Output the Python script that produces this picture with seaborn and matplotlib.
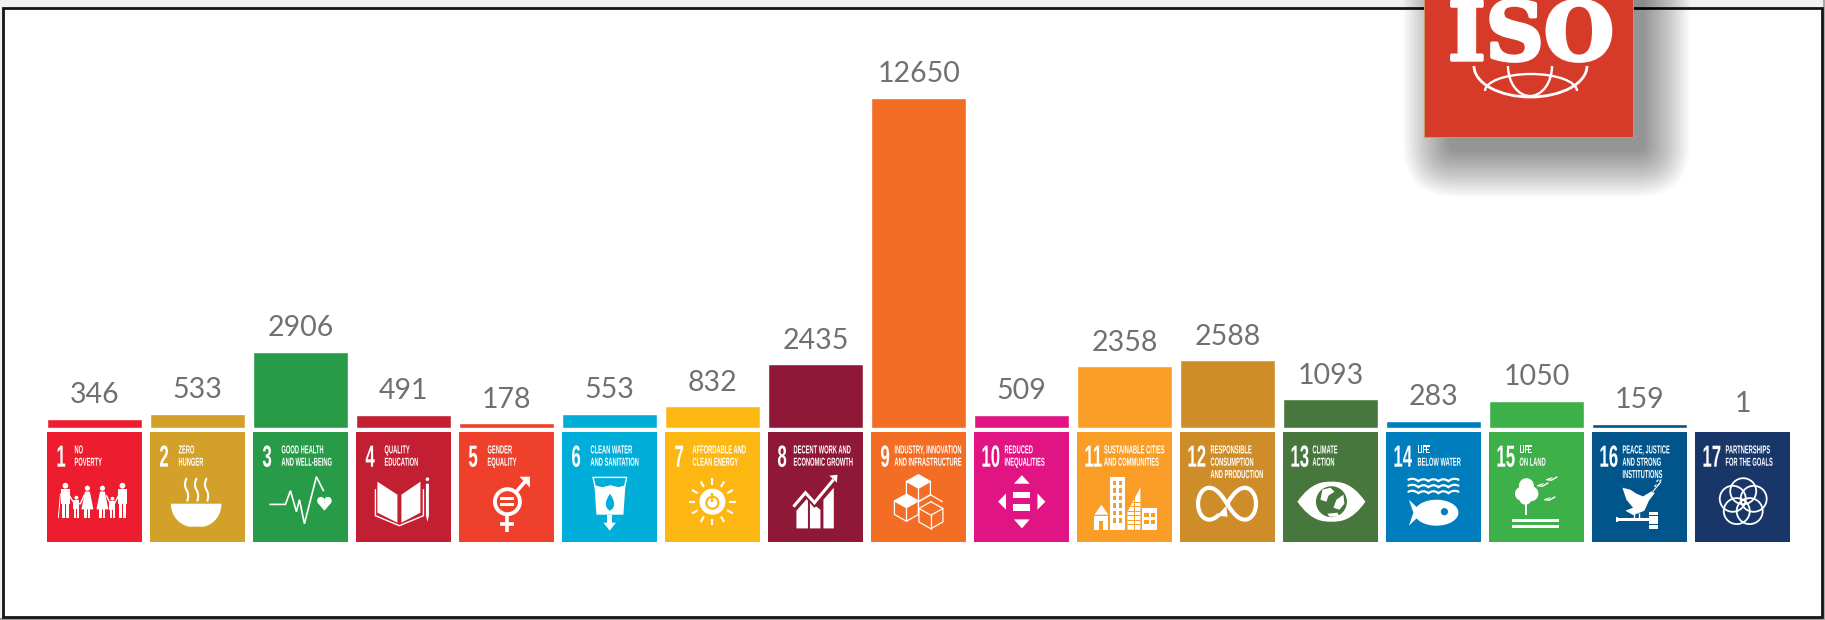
import numpy as np
import matplotlib
matplotlib.use("Agg")
import matplotlib.pyplot as plt
import matplotlib.patheffects as pe
import seaborn as sns
from matplotlib.patches import Rectangle, Polygon, Circle, Ellipse, PathPatch, Arc, FancyBboxPatch
from matplotlib.path import Path
from matplotlib.text import Text
from matplotlib.transforms import Affine2D, Bbox

# Dados
goals = [str(i) for i in range(1, 18)]
values = [346, 533, 2906, 491, 178, 553, 832, 2435, 12650, 509, 2358, 2588, 1093, 283, 1050, 159, 1]
colors = ["#ED1C2E", "#D3A029", "#279B48", "#C31F33", "#EF402B", "#00AED9", "#FDB713", "#8F1838", "#F36D25",
          "#E11484", "#F99D26", "#CF8D2A", "#48773E", "#007DBC", "#3EB049", "#02558B", "#183668"]
titles = [["NO", "POVERTY"], ["ZERO", "HUNGER"], ["GOOD HEALTH", "AND WELL-BEING"], ["QUALITY", "EDUCATION"],
          ["GENDER", "EQUALITY"], ["CLEAN WATER", "AND SANITATION"], ["AFFORDABLE AND", "CLEAN ENERGY"],
          ["DECENT WORK AND", "ECONOMIC GROWTH"], ["INDUSTRY, INNOVATION", "AND INFRASTRUCTURE"],
          ["REDUCED", "INEQUALITIES"], ["SUSTAINABLE CITIES", "AND COMMUNITIES"],
          ["RESPONSIBLE", "CONSUMPTION", "AND PRODUCTION"], ["CLIMATE", "ACTION"], ["LIFE", "BELOW WATER"],
          ["LIFE", "ON LAND"], ["PEACE, JUSTICE", "AND STRONG", "INSTITUTIONS"], ["PARTNERSHIPS", "FOR THE GOALS"]]
title_x = [27, 28, 28, 28, 28, 28, 27, 25, 23, 30, 26.5, 30, 29, 31, 30, 30, 30]

W, H = 1825, 620
sns.set_theme(style="white")
fig = plt.figure(figsize=(W / 100, H / 100), dpi=100, facecolor="#f0f0f0")


class Squeeze(pe.AbstractPathEffect):
    # aperta o texto na horizontal (as fontes condensadas nao estao instaladas)
    def __init__(self, sx):
        super().__init__()
        self.sx = sx

    def draw_path(self, renderer, gc, tpath, affine, rgbFace=None):
        renderer.draw_path(gc, tpath, Affine2D().scale(self.sx, 1) + affine, rgbFace)


class NarrowText(Text):
    # texto real, com a caixa igual ao que e desenhado depois do aperto
    def __init__(self, *args, sx=0.5, **kwargs):
        super().__init__(*args, path_effects=[Squeeze(sx)], **kwargs)
        self.sx = sx

    def get_window_extent(self, renderer=None, dpi=None):
        bb = super().get_window_extent(renderer, dpi)
        return Bbox.from_extents(bb.x0, bb.y0, bb.x0 + bb.width * self.sx, bb.y1)


def pixel_axes(z):
    a = fig.add_axes([0, 0, 1, 1], zorder=z)
    a.set_xlim(0, W)
    a.set_ylim(H, 0)
    a.axis("off")
    a.patch.set_alpha(0)
    return a


# Moldura de fundo
bg = pixel_axes(0)
bg.add_patch(Rectangle((0, 618), W, 2, color="#9a9a9a", lw=0))
bg.add_patch(Rectangle((1823.5, 0), 2, H, color="#a8a8a8", lw=0))
bg.add_patch(Rectangle((3, 8), 1819.5, 608.5, fc="white", ec="#151515", lw=2))

# Barras
ax = fig.add_axes([43.2 / W, (H - 428) / H, 1751 / W, 364 / H], zorder=1)
sns.barplot(x=goals, y=values, hue=goals, palette=colors, legend=False, width=0.918, saturation=1, ax=ax)
ax.set_xlim(-0.5, 16.5)
ax.set_ylim(0, 13950)
ax.axis("off")
ax.patch.set_alpha(0)
for c in ax.containers:
    ax.bar_label(c, fmt="%d", padding=7.7, fontsize=20.5, color="#707070", family="Lato", clip_on=False)

deco = pixel_axes(2)

# Blocos dos objetivos
C = "white"


def poly(tr, pts, color=C, z=3):
    deco.add_patch(Polygon(pts, closed=True, fc=color, ec="none", transform=tr, zorder=z))


def line(tr, pts, lw=1.5, color=C, z=3, cap="round"):
    pts = np.array(pts)
    deco.plot(pts[:, 0], pts[:, 1], color=color, lw=lw, transform=tr, zorder=z, solid_capstyle=cap,
              solid_joinstyle="miter")


def circ(tr, xy, r, color=C, z=3, lw=0, fill=True):
    deco.add_patch(Circle(xy, r, fc=color if fill else "none", ec=color if not fill else "none", lw=lw,
                          transform=tr, zorder=z))


def box(tr, x0, y0, x1, y1, color=C, z=3):
    poly(tr, [(x0, y0), (x1, y0), (x1, y1), (x0, y1)], color, z)


def curve(tr, verts, codes, fill=True, lw=1.5, color=C, z=3):
    deco.add_patch(PathPatch(Path(verts, codes), fc=color if fill else "none", ec=color if not fill else "none",
                             lw=lw, transform=tr, zorder=z, capstyle="round"))


M, L4, C3, C4 = Path.MOVETO, Path.LINETO, Path.CURVE3, Path.CURVE4


def person(tr, cx, head, foot, w, dress=False):
    r = w * 0.32
    circ(tr, (cx, head), r)
    top = head + r + 0.8
    if dress:
        poly(tr, [(cx - w * 0.3, top), (cx + w * 0.3, top), (cx + w * 0.75, top + (foot - top) * 0.68),
                  (cx - w * 0.75, top + (foot - top) * 0.68)])
        box(tr, cx - w * 0.38, top + (foot - top) * 0.6, cx - w * 0.08, foot)
        box(tr, cx + w * 0.08, top + (foot - top) * 0.6, cx + w * 0.38, foot)
    else:
        box(tr, cx - w * 0.5, top, cx + w * 0.5, top + (foot - top) * 0.5)
        box(tr, cx - w * 0.42, top, cx - w * 0.04, foot)
        box(tr, cx + w * 0.04, top, cx + w * 0.42, foot)


def icon1(tr, bgc):
    person(tr, 18, 54, 86, 9)
    person(tr, 29, 66, 86, 6)
    person(tr, 40, 56.5, 86, 8, True)
    person(tr, 55, 56.5, 86, 8, True)
    person(tr, 65, 67, 86, 6)
    person(tr, 75, 54, 86, 9)
    line(tr, [(13, 62), (11, 86)], 0.7)
    line(tr, [(22, 64), (27, 72), (33, 72), (37, 63)], 1)
    line(tr, [(59, 64), (63, 72), (67, 72), (71, 64)], 1)


def icon2(tr, bgc):
    curve(tr, [(20.5, 72), (71, 72), (71, 88), (58, 95), (52, 95), (40, 95), (34, 95), (20.5, 88), (20.5, 72)],
          [M, L4, C4, C4, C4, L4, C4, C4, C4])
    for x in (36, 46, 56):
        curve(tr, [(x, 47), (x - 3, 53), (x, 58), (x + 3, 63), (x + 1, 69)], [M, C3, C3, C3, C3], False, 1.5)


def icon3(tr, bgc):
    line(tr, [(16.6, 72.7), (32, 72.7), (37, 59), (43, 80), (46, 68), (51, 92), (63, 45), (70, 59)], 1.2)
    circ(tr, (67.5, 69), 3.8)
    circ(tr, (74.5, 69), 3.8)
    poly(tr, [(64.2, 71), (77.8, 71), (71, 79)])


def icon4(tr, bgc):
    poly(tr, [(21, 50), (41, 63), (41, 91), (21, 81)])
    poly(tr, [(45, 63), (64, 50), (64, 81), (45, 91)])
    line(tr, [(19, 58), (19, 84), (43, 94), (67, 84), (67, 58)], 1)
    circ(tr, (71, 47.5), 1.8)
    poly(tr, [(69.5, 52), (72.5, 52), (72.5, 84), (71, 90), (69.5, 84)])


def icon5(tr, bgc):
    circ(tr, (48, 70), 12.5, lw=2.8, fill=False)
    line(tr, [(57, 60), (68, 47)], 2.6, cap="butt")
    poly(tr, [(60, 45), (70.5, 45), (70.5, 56), (67, 52), (63.5, 48.5)])
    line(tr, [(48, 83), (48, 100)], 2.6, cap="butt")
    line(tr, [(41, 92), (55, 92)], 2.6, cap="butt")
    box(tr, 41, 65.5, 55, 68.5)
    box(tr, 41, 71.5, 55, 74.5)


def icon6(tr, bgc):
    line(tr, [(30.6, 45.7), (64.3, 45.7), (61, 60)], 1)
    line(tr, [(30.6, 45.7), (34, 60)], 1)
    poly(tr, [(32, 53.5), (40, 55.5), (48, 53.5), (56, 55.5), (63, 53.5), (61, 83), (34, 83)])
    box(tr, 45, 83, 50, 92)
    poly(tr, [(41, 91), (53.5, 91), (47.3, 99)])
    curve(tr, [(47.6, 62), (42, 70), (42, 76), (47.6, 79), (53, 76), (53, 70), (47.6, 62)],
          [M, C4, C4, C4, C4, C4, C4], color=bgc, z=4)


def icon7(tr, bgc):
    circ(tr, (47, 70), 13)
    circ(tr, (47, 71), 6, color=bgc, z=4, fill=False, lw=1.6)
    line(tr, [(47, 61), (47, 70)], 1.6, color=bgc, z=5, cap="butt")
    for a in np.radians(np.arange(0, 360, 30)):
        line(tr, [(47 + 17 * np.cos(a), 70 + 17 * np.sin(a)), (47 + 23.5 * np.cos(a), 70 + 23.5 * np.sin(a))], 1.5,
             cap="butt")


def icon8(tr, bgc):
    poly(tr, [(28, 79), (39.5, 66), (39.5, 96.7), (28, 96.7)])
    poly(tr, [(41.5, 70), (52, 78), (52, 96.7), (41.5, 96.7)])
    poly(tr, [(55, 68), (65.4, 56), (65.4, 96.7), (55, 96.7)])
    line(tr, [(25, 75), (37, 61), (46, 71), (64, 49)], 5, color=bgc, z=4, cap="butt")
    line(tr, [(25, 75), (37, 61), (46, 71), (65, 48)], 2.2, z=5, cap="butt")
    poly(tr, [(61, 44), (69, 43), (68.5, 51)], z=5)


def cube(tr, cx, cy, rx=12, ry=13.5, top=False):
    hexa = [(cx, cy - ry), (cx + rx, cy - ry / 2), (cx + rx, cy + ry / 2), (cx, cy + ry), (cx - rx, cy + ry / 2),
            (cx - rx, cy - ry / 2), (cx, cy - ry)]
    if top:
        poly(tr, [(cx, cy - ry), (cx + rx, cy - ry / 2), (cx, cy), (cx - rx, cy - ry / 2)])
    line(tr, hexa, 0.9)
    line(tr, [(cx - rx, cy - ry / 2), (cx, cy), (cx + rx, cy - ry / 2)], 0.9)
    line(tr, [(cx, cy), (cx, cy + ry)], 0.9)


def icon9(tr, bgc):
    cube(tr, 47, 56.5, top=True)
    cube(tr, 35, 76, top=True)
    cube(tr, 59.5, 83.5, top=False)
    line(tr, [(47, 70), (59, 63), (71, 70)], 0.9)
    line(tr, [(47, 70), (47, 83.5)], 0.9)


def icon10(tr, bgc):
    poly(tr, [(47.5, 43.5), (55.3, 52), (39.5, 52)])
    poly(tr, [(47.5, 96.7), (55.3, 87.7), (39.5, 87.7)])
    poly(tr, [(23.7, 70), (31.6, 61.7), (31.6, 78)])
    poly(tr, [(71, 70), (63, 61.7), (63, 78)])
    box(tr, 38.7, 60.7, 55.7, 66.7)
    box(tr, 38.7, 72.7, 55.7, 79)


def icon11(tr, bgc):
    poly(tr, [(17, 83), (24, 73), (31, 83)])
    box(tr, 17, 84.5, 31, 98)
    box(tr, 22, 89, 26, 98, bgc, 4)
    box(tr, 33, 45, 47.6, 98)
    for y in np.arange(49, 94, 7.5):
        for x in (35.5, 41.5):
            box(tr, x, y, x + 3.5, y + 4.5, bgc, 4)
    poly(tr, [(50, 80), (63, 55.7), (63, 98), (50, 98)])
    for y in np.arange(70, 96, 4.5):
        line(tr, [(50, y), (63, y)], 0.7, color=bgc, z=4, cap="butt")
    line(tr, [(57, 62), (57, 98)], 0.7, color=bgc, z=4, cap="butt")
    box(tr, 65, 76.7, 79.5, 98)
    for y in (81, 88):
        for x in (67, 73.5):
            box(tr, x, y, x + 4.5, y + 4, bgc, 4)


def icon12(tr, bgc):
    t = np.linspace(1.5 * np.pi, 3.5 * np.pi - 0.5, 200)
    d = 1 + np.sin(t) ** 2
    line(tr, np.c_[46.6 + 29 * np.cos(t) / d, 72 + 45 * np.sin(t) * np.cos(t) / d], 3, cap="butt")
    poly(tr, [(46, 74), (47, 85), (36.5, 84)])


def icon13(tr, bgc):
    curve(tr, [(14, 70), (28, 50), (40, 50), (48, 50), (56, 50), (68, 50), (82, 70), (68, 90), (56, 90), (48, 90),
               (40, 90), (28, 90), (14, 70)], [M, C4, C4, C4, C4, C4, C4, C4, C4, C4, C4, C4, C4])
    circ(tr, (48, 70), 15.5, color=bgc, z=4)
    poly(tr, [(39, 58), (47, 56), (51, 60), (45, 64), (43, 70), (37, 68)], z=5)
    poly(tr, [(53, 68), (60, 63), (61, 72), (56, 78), (50, 76)], z=5)
    poly(tr, [(44, 82), (54, 81), (56, 85), (46, 85)], z=5)


def icon14(tr, bgc):
    xs = np.array([22, 27, 32, 37, 42, 47, 52, 57, 62, 67, 72])
    for y in (48, 54, 60):
        ys = y + np.array([0, -2.5, 1.5, -2.5, 1.5, -2.5, 1.5, -2.5, 1.5, -2.5, 0])
        curve(tr, np.c_[xs, ys], [M] + [C3, C3] * 5, False, 1.6)
    poly(tr, [(22.5, 68), (33, 78), (33, 84), (22.5, 94), (27, 81)])
    deco.add_patch(Ellipse((50, 81), 44, 26, fc=C, ec="none", transform=tr, zorder=3))
    circ(tr, (58, 80), 3.6, color=bgc, z=4)


def icon15(tr, bgc):
    circ(tr, (37, 54), 7.5)
    circ(tr, (32.5, 62), 7)
    circ(tr, (41.5, 62), 7.5)
    circ(tr, (36, 67), 6)
    box(tr, 36, 72, 38, 83)
    box(tr, 23, 87, 70, 90)
    box(tr, 23, 93, 70, 96)
    for x, y in ((53, 53), (62, 47), (60, 67)):
        line(tr, [(x - 5, y + 1), (x, y + 1.5), (x + 6, y - 2)], 1, cap="butt")
        line(tr, [(x - 5, y + 1), (x + 1, y - 1)], 0.8, cap="butt")


def icon16(tr, bgc):
    poly(tr, [(30, 56), (38, 58), (44, 62), (50.6, 64.7), (59, 59.7), (62.3, 61.3), (56.5, 69), (52, 79), (41, 83.5),
              (33, 79), (40.6, 76), (34, 68)])
    line(tr, [(60.6, 59.7), (68.3, 50.3)], 0.8)
    for x, y in ((63, 54), (66, 53), (65, 49), (68, 49)):
        deco.add_patch(Ellipse((x, y), 3.2, 1.4, angle=-50, fc=C, ec="none", transform=tr, zorder=3))
    line(tr, [(42, 82), (42, 87)], 1, cap="butt")
    line(tr, [(47, 81), (47, 87)], 1, cap="butt")
    box(tr, 24, 86.5, 57, 89.5)
    box(tr, 24, 85.5, 26, 90.5)
    box(tr, 56.6, 80, 66, 97)
    box(tr, 56.6, 83, 66, 84, bgc, 4)
    box(tr, 56.6, 92.5, 66, 93.5, bgc, 4)


def icon17(tr, bgc):
    for a in np.radians(np.arange(-90, 270, 72)):
        circ(tr, (47.8 + 11 * np.cos(a), 70.5 + 11 * np.sin(a)), 13, lw=1.3, fill=False)


icons = [icon1, icon2, icon3, icon4, icon5, icon6, icon7, icon8, icon9, icon10, icon11, icon12, icon13, icon14,
         icon15, icon16, icon17]
for i, c in enumerate(ax.containers):
    b = c[0]
    px0 = ax.transData.transform((b.get_x(), 0))[0]
    px1 = ax.transData.transform((b.get_x() + b.get_width(), 0))[0]
    py0 = H - ax.transData.transform((0, 0))[1] + 3.7
    tr = Affine2D().translate(px0, py0) + deco.transData
    deco.add_patch(Rectangle((px0, py0), px1 - px0, 110, fc=colors[i], ec="none", zorder=2))
    two = len(goals[i]) > 1
    deco.add_artist(NarrowText(7 if two else 9, 35, goals[i], sx=0.55, color=C, fontsize=22, family="Liberation Sans",
                               fontweight="bold", va="baseline", ha="left", transform=tr, zorder=6))
    for j, t in enumerate(titles[i]):
        deco.add_artist(NarrowText(title_x[i], 21.7 + j * 12.3, t, sx=0.5, color=C, fontsize=8.3,
                                   family="Liberation Sans", fontweight="bold", va="baseline", ha="left",
                                   transform=tr, zorder=6))
    icons[i](tr, colors[i])

# Logo ISO com sombra
for k in range(24):
    d = 47 - k * 2
    deco.add_patch(FancyBboxPatch((1450 - d, -60), 193 + 2 * d, 210 + d, boxstyle=f"round,pad=0,rounding_size={d + 6}",
                                  fc="black", ec="none", alpha=0.021, zorder=7))
RED = "#D63B2A"
deco.add_patch(Rectangle((1424, -5), 209, 142, fc=RED, ec="#c9a06a", lw=0.6, zorder=8))
deco.text(1531, 60, "ISO", color=C, fontsize=58, family="DejaVu Serif", fontweight="bold", ha="center",
          va="baseline", zorder=9, path_effects=[pe.withStroke(linewidth=2.5, foreground=C)])
deco.add_patch(Arc((1530.5, 66), 113, 62, theta1=0, theta2=180, color=C, lw=2, zorder=9))
deco.add_patch(Arc((1531, 91), 92, 34, theta1=180, theta2=360, color=C, lw=1.7, zorder=9))
deco.add_patch(Arc((1530, 66), 44, 60, theta1=0, theta2=180, color=C, lw=1.7, zorder=9))

fig.savefig("out.png", dpi=100, facecolor=fig.get_facecolor())
